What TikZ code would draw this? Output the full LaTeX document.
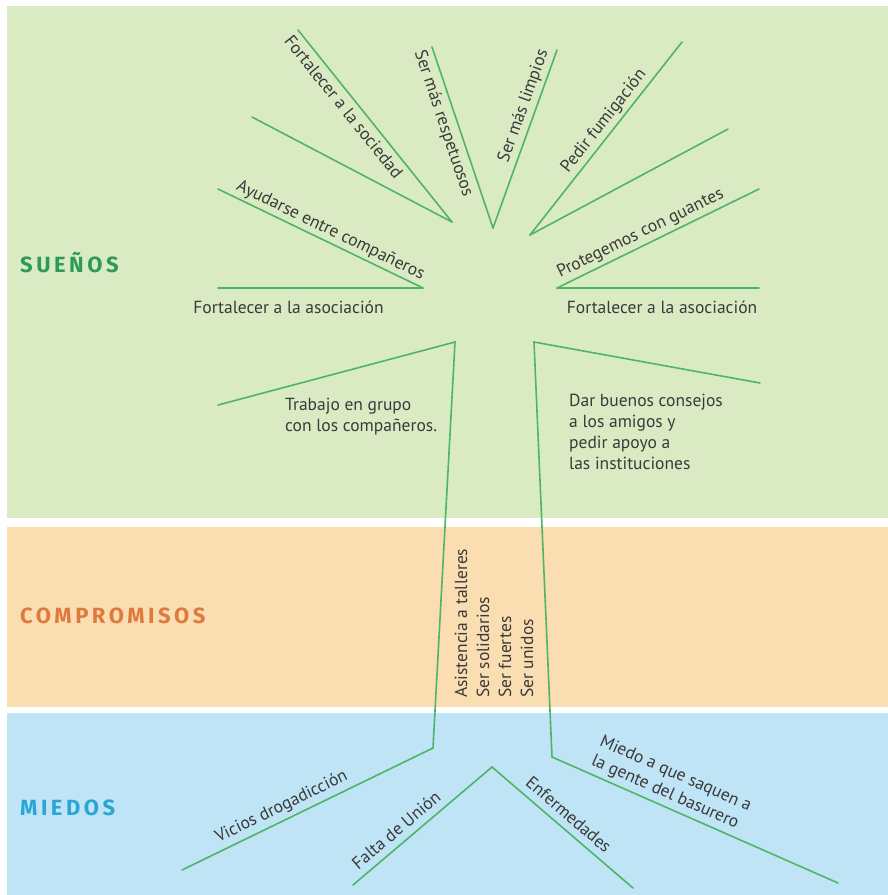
\documentclass[tikz,border=0pt]{standalone}
\usepackage{fontspec}
\setmainfont{PT Sans}
\newfontfamily\titlefont[LetterSpace=16]{Fira Sans}
\definecolor{bggreen}{HTML}{DAEBC4}
\definecolor{bgorange}{HTML}{FADDB0}
\definecolor{bgblue}{HTML}{BFE4F6}
\definecolor{linegreen}{HTML}{4FB468}
\definecolor{txtgray}{HTML}{3A3A3A}
\definecolor{titgreen}{HTML}{2E9A58}
\definecolor{titorange}{HTML}{DF7A3E}
\definecolor{titblue}{HTML}{29A6D6}
\begin{document}
\begin{tikzpicture}[x=1pt,y=-1pt,
  branch/.style={draw=linegreen,line width=1.6pt,line cap=round,line join=miter},
  lbl/.style={font=\fontsize{17.5}{21}\selectfont,text=txtgray,inner sep=0pt,text height=12.5pt,text depth=4pt},
  mlbl/.style={font=\fontsize{17.5}{21}\selectfont,text=txtgray,inner sep=0pt,align=left},
  ttl/.style={font=\titlefont\bfseries\fontsize{22}{24}\selectfont,inner sep=0pt,anchor=west}]
\useasboundingbox (0,0) rectangle (888,895);
\fill[white] (0,0) rectangle (888,895);
\fill[bggreen] (7,6) rectangle (888,518);
\fill[bgorange] (7,527) rectangle (888,707);
\fill[bgblue] (7,713) rectangle (888,895);
% titles
\node[ttl,text=titgreen] (sue) at (20,263) {SUEÑOS};
\node[ttl,text=titorange] (com) at (20,616) {COMPROMISOS};
\node[ttl,text=titblue] (mie) at (20,808) {MIEDOS};
% coordinates
\coordinate (A1) at (298,30); \coordinate (A2) at (252,117); \coordinate (VA) at (452,222);
\coordinate (B1) at (432,47); \coordinate (B2) at (557,50); \coordinate (VB) at (493,228);
\coordinate (C1) at (682,42); \coordinate (C2) at (728,129); \coordinate (VC) at (530,235);
\coordinate (D1) at (759,189); \coordinate (D2) at (759,288); \coordinate (VD) at (557,288);
\coordinate (E1) at (218,189); \coordinate (E2) at (218,288); \coordinate (VE) at (423,288);
\coordinate (F1) at (218,405); \coordinate (FL) at (455,342); \coordinate (FLb) at (433,748);
\coordinate (G1) at (182,870);
\coordinate (FR) at (534,342); \coordinate (H1) at (760,383); \coordinate (FRb) at (552,757);
\coordinate (I1) at (838,883);
\coordinate (VJ) at (492,767); \coordinate (J1) at (353,885); \coordinate (J2) at (633,888);
% top fans
\draw[branch] (A1) -- node[lbl,sloped,below=5pt,pos=0.36] (tA) {Fortalecer a la sociedad} (VA);
\draw[branch] (A2) -- (VA);
\draw[branch] (B1) -- node[lbl,sloped,below=5pt,pos=0.40] (tB1) {Ser más respetuosos} (VB);
\draw[branch] (VB) -- node[lbl,sloped,above=3pt,pos=0.66] (tB2) {Ser más limpios} (B2);
\draw[branch] (VC) -- node[lbl,sloped,above=3pt,pos=0.55] (tC) {Pedir fumigación} (C1);
\draw[branch] (VC) -- (C2);
\draw[branch] (VD) -- node[lbl,sloped,above=3pt,pos=0.44] (tD) {Protegemos con guantes} (D1);
\draw[branch] (VD) -- node[lbl,below=12pt,pos=0.52] (tD2) {Fortalecer a la asociación} (D2);
\draw[branch] (E1) -- node[lbl,sloped,above=2pt,pos=0.525] (tE) {Ayudarse entre compañeros} (VE);
\draw[branch] (E2) -- node[lbl,below=12pt,pos=0.344] (tE2) {Fortalecer a la asociación} (VE);
% trunk
\draw[branch] (F1) -- (FL) -- (FLb);
\draw[branch] (G1) -- node[lbl,sloped,above=4pt,pos=0.42] (tG) {Vicios drogadicción} (FLb);
\draw[branch] (H1) -- (FR) -- (FRb);
\draw[branch] (FRb) -- node[mlbl,sloped,above=4pt,pos=0.384] (tI) {Miedo a que saquen a\\la gente del basurero} (I1);
\draw[branch] (J1) -- node[lbl,sloped,above=3pt,pos=0.375] (tJ1) {Falta de Unión} (VJ);
\draw[branch] (VJ) -- node[lbl,sloped,above=3pt,pos=0.48] (tJ2) {Enfermedades} (J2);
% free texts
\node[mlbl,anchor=base west] (trab) at (285,431) {Trabajo en grupo\\con los compañeros.};
\node[mlbl,anchor=base west] (dar) at (569,469) {Dar buenos consejos\\a los amigos y\\pedir apoyo a\\las instituciones};
\node[lbl,rotate=90,anchor=base west] (k1) at (467,698) {Asistencia a talleres};
\node[lbl,rotate=90,anchor=base west] (k2) at (489,698) {Ser solidarios};
\node[lbl,rotate=90,anchor=base west] (k3) at (511,698) {Ser fuertes};
\node[lbl,rotate=90,anchor=base west] (k4) at (533,698) {Ser unidos};
\end{tikzpicture}
\end{document}
